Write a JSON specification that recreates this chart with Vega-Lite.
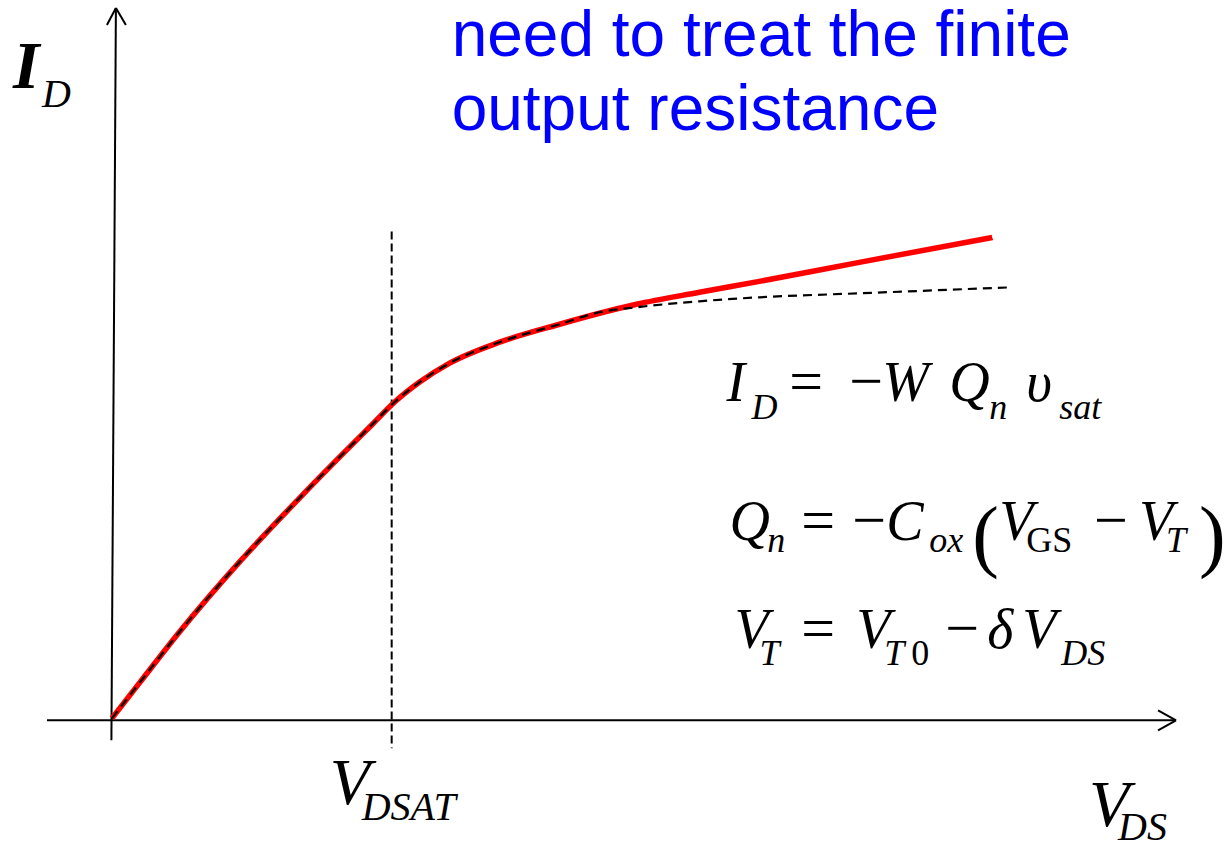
{
  "$schema": "https://vega.github.io/schema/vega-lite/v6.json",
  "width": 1226,
  "height": 848,
  "autosize": {"type": "fit", "contains": "padding"},
  "padding": 0,
  "background": "white",
  "config": {"view": {"stroke": null}},
  "datasets": {
    "drainCurrent": [
      {"x": 0.0, "y": 0.02}, {"x": 0.28, "y": 0.38}, {"x": 0.68, "y": 0.89}, {"x": 1.28, "y": 1.59},
      {"x": 1.88, "y": 2.23}, {"x": 2.28, "y": 2.64}, {"x": 2.60, "y": 2.96}, {"x": 2.83, "y": 3.19},
      {"x": 3.08, "y": 3.39}, {"x": 3.38, "y": 3.58}, {"x": 3.88, "y": 3.79}, {"x": 4.48, "y": 3.97},
      {"x": 4.88, "y": 4.08}, {"x": 5.25, "y": 4.17}, {"x": 5.88, "y": 4.29}, {"x": 6.48, "y": 4.40},
      {"x": 7.48, "y": 4.59}, {"x": 8.81, "y": 4.84}
    ],
    "idealSaturation": [
      {"x": 0.0, "y": 0.02}, {"x": 0.28, "y": 0.38}, {"x": 0.68, "y": 0.89}, {"x": 1.28, "y": 1.59},
      {"x": 1.88, "y": 2.23}, {"x": 2.28, "y": 2.64}, {"x": 2.60, "y": 2.96}, {"x": 2.83, "y": 3.19},
      {"x": 3.08, "y": 3.39}, {"x": 3.38, "y": 3.58}, {"x": 3.88, "y": 3.79}, {"x": 4.48, "y": 3.97},
      {"x": 4.88, "y": 4.09}, {"x": 5.25, "y": 4.14}, {"x": 5.88, "y": 4.20}, {"x": 6.48, "y": 4.24},
      {"x": 7.48, "y": 4.28}, {"x": 9.00, "y": 4.34}
    ],
    "axes": [
      {"x": -0.65, "y": 0.0, "x2": 10.65, "y2": 0.0},
      {"x": -0.005, "y": -0.20, "x2": 0.04, "y2": 7.14},
      {"x": -0.05, "y": 6.97, "x2": 0.04, "y2": 7.14},
      {"x": 0.14, "y": 6.97, "x2": 0.04, "y2": 7.14},
      {"x": 10.47, "y": 0.10, "x2": 10.65, "y2": 0.0},
      {"x": 10.47, "y": -0.10, "x2": 10.65, "y2": 0.0}
    ],
    "saturationVoltage": [
      {"x": 2.80, "y": 4.90, "x2": 2.80, "y2": -0.28}
    ],
    "note": [
      {"text": "need to treat the finite", "x": 3.40, "y": 6.66},
      {"text": "output resistance", "x": 3.40, "y": 5.92}
    ],
    "currentSymbol": [
      {"text": "I", "x": -0.99, "y": 6.34}
    ],
    "voltageSymbol": [
      {"text": "V", "x": 2.18, "y": -0.84},
      {"text": "V", "x": 9.78, "y": -1.06}
    ],
    "axisSubscripts": [
      {"text": "D", "x": -0.70, "y": 6.15},
      {"text": "DSAT", "x": 2.50, "y": -1.00},
      {"text": "DS", "x": 10.07, "y": -1.20}
    ],
    "eqMain": [
      {"text": "I", "x": 6.15, "y": 3.20},
      {"text": "W", "x": 7.71, "y": 3.20},
      {"text": "Q", "x": 8.38, "y": 3.20},
      {"text": "υ", "x": 9.15, "y": 3.20},
      {"text": "Q", "x": 6.18, "y": 1.81},
      {"text": "C", "x": 7.75, "y": 1.81},
      {"text": "V", "x": 8.88, "y": 1.81},
      {"text": "V", "x": 10.28, "y": 1.81},
      {"text": "V", "x": 6.23, "y": 0.72},
      {"text": "V", "x": 7.45, "y": 0.72},
      {"text": "δ", "x": 8.76, "y": 0.72},
      {"text": "V", "x": 9.11, "y": 0.72}
    ],
    "eqOperators": [
      {"text": "=", "x": 6.78, "y": 3.20},
      {"text": "−", "x": 7.38, "y": 3.20},
      {"text": "=", "x": 6.90, "y": 1.81},
      {"text": "−", "x": 7.41, "y": 1.81},
      {"text": "−", "x": 9.83, "y": 1.81},
      {"text": "=", "x": 6.90, "y": 0.72},
      {"text": "−", "x": 8.34, "y": 0.72}
    ],
    "eqSub": [
      {"text": "D", "x": 6.40, "y": 3.02},
      {"text": "n", "x": 8.78, "y": 3.02},
      {"text": "sat", "x": 9.48, "y": 3.02},
      {"text": "n", "x": 6.56, "y": 1.69},
      {"text": "ox", "x": 8.18, "y": 1.69},
      {"text": "T", "x": 10.55, "y": 1.69},
      {"text": "T", "x": 6.48, "y": 0.55},
      {"text": "T", "x": 7.73, "y": 0.55},
      {"text": "DS", "x": 9.50, "y": 0.55}
    ],
    "eqSubUpright": [
      {"text": "GS", "x": 9.15, "y": 1.69},
      {"text": "0", "x": 8.00, "y": 0.55}
    ],
    "eqParen": [
      {"text": "(", "x": 8.61, "y": 1.59},
      {"text": ")", "x": 10.88, "y": 1.59}
    ]
  },
  "encoding": {
    "x": {"field": "x", "type": "quantitative", "scale": {"domain": [-1.12, 11.14], "nice": false, "zero": false}, "axis": null},
    "y": {"field": "y", "type": "quantitative", "scale": {"domain": [-1.26, 7.22], "nice": false, "zero": false}, "axis": null}
  },
  "layer": [
    {
      "data": {"name": "axes"},
      "mark": {"type": "rule", "color": "black", "strokeWidth": 2},
      "encoding": {"x2": {"field": "x2"}, "y2": {"field": "y2"}}
    },
    {
      "data": {"name": "saturationVoltage"},
      "mark": {"type": "rule", "color": "black", "strokeWidth": 2, "strokeDash": [8, 4]},
      "encoding": {"x2": {"field": "x2"}, "y2": {"field": "y2"}}
    },
    {
      "data": {"name": "drainCurrent"},
      "mark": {"type": "line", "color": "#ff0000", "strokeWidth": 5.5, "interpolate": "monotone"},
      "encoding": {"order": {"field": "x", "type": "quantitative"}}
    },
    {
      "data": {"name": "idealSaturation"},
      "mark": {"type": "line", "color": "black", "strokeWidth": 2.2, "strokeDash": [9, 6], "interpolate": "monotone"},
      "encoding": {"order": {"field": "x", "type": "quantitative"}}
    },
    {
      "data": {"name": "note"},
      "mark": {"type": "text", "align": "left", "baseline": "alphabetic", "font": "Liberation Sans", "fontSize": 64, "color": "#0000ff"},
      "encoding": {"text": {"field": "text"}}
    },
    {
      "data": {"name": "currentSymbol"},
      "mark": {"type": "text", "align": "left", "baseline": "alphabetic", "font": "Liberation Serif", "fontStyle": "italic", "fontWeight": "bold", "fontSize": 68, "color": "black"},
      "encoding": {"text": {"field": "text"}}
    },
    {
      "data": {"name": "voltageSymbol"},
      "mark": {"type": "text", "align": "left", "baseline": "alphabetic", "font": "Liberation Serif", "fontStyle": "italic", "fontSize": 66, "color": "black"},
      "encoding": {"text": {"field": "text"}}
    },
    {
      "data": {"name": "axisSubscripts"},
      "mark": {"type": "text", "align": "left", "baseline": "alphabetic", "font": "Liberation Serif", "fontStyle": "italic", "fontSize": 40, "color": "black"},
      "encoding": {"text": {"field": "text"}}
    },
    {
      "data": {"name": "eqMain"},
      "mark": {"type": "text", "align": "left", "baseline": "alphabetic", "font": "Liberation Serif", "fontStyle": "italic", "fontSize": 56, "color": "black"},
      "encoding": {"text": {"field": "text"}}
    },
    {
      "data": {"name": "eqOperators"},
      "mark": {"type": "text", "align": "left", "baseline": "alphabetic", "font": "Liberation Serif", "fontSize": 60, "color": "black"},
      "encoding": {"text": {"field": "text"}}
    },
    {
      "data": {"name": "eqSub"},
      "mark": {"type": "text", "align": "left", "baseline": "alphabetic", "font": "Liberation Serif", "fontStyle": "italic", "fontSize": 36, "color": "black"},
      "encoding": {"text": {"field": "text"}}
    },
    {
      "data": {"name": "eqSubUpright"},
      "mark": {"type": "text", "align": "left", "baseline": "alphabetic", "font": "Liberation Serif", "fontSize": 36, "color": "black"},
      "encoding": {"text": {"field": "text"}}
    },
    {
      "data": {"name": "eqParen"},
      "mark": {"type": "text", "align": "left", "baseline": "alphabetic", "font": "Liberation Serif", "fontSize": 80, "color": "black"},
      "encoding": {"text": {"field": "text"}}
    }
  ]
}
